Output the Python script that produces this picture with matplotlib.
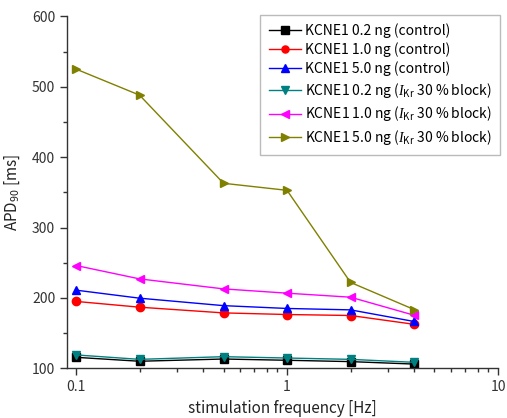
import matplotlib
matplotlib.use("Agg")
import matplotlib.pyplot as plt
from matplotlib.ticker import MultipleLocator, LogLocator, FixedLocator, FixedFormatter, NullFormatter

plt.rcParams['font.family'] = ['Noto Sans CJK JP', 'DejaVu Sans']
plt.rcParams['mathtext.fontset'] = 'custom'
plt.rcParams['mathtext.rm'] = 'Noto Sans CJK JP'
plt.rcParams['mathtext.it'] = 'Liberation Serif:italic'

freq = [0.1, 0.2, 0.5, 1, 2, 4]
ctrl_02 = [115.6, 110.0, 113.2, 111.4, 109.5, 106.0]
ctrl_10 = [195.0, 186.8, 178.7, 176.4, 175.0, 162.5]
ctrl_50 = [211.0, 199.6, 189.0, 185.0, 183.0, 166.5]
blk_02 = [119.0, 112.7, 116.5, 114.6, 112.7, 108.5]
blk_10 = [246.0, 227.0, 212.8, 206.7, 201.0, 175.4]
blk_50 = [525.0, 488.0, 362.8, 352.8, 222.0, 183.5]

labels = [
    "KCNE1 0.2 ng (control)",
    "KCNE1 1.0 ng (control)",
    "KCNE1 5.0 ng (control)",
    r"KCNE1 0.2 ng ($I_{\rm Kr}$ 30 % block)",
    r"KCNE1 1.0 ng ($I_{\rm Kr}$ 30 % block)",
    r"KCNE1 5.0 ng ($I_{\rm Kr}$ 30 % block)",
]
series = [ctrl_02, ctrl_10, ctrl_50, blk_02, blk_10, blk_50]
colors = ['#000000', '#ff0000', '#0000ff', '#008080', '#ff00ff', '#808000']
markers = ['s', 'o', '^', 'v', '<', '>']

fig = plt.figure(figsize=(5.07, 4.18), dpi=100)
ax = fig.add_axes([67/507, 1-368.3/418, (498-67)/507, (368.3-16.3)/418])

for y, lab, c, m in zip(series, labels, colors, markers):
    ax.plot(freq, y, color=c, marker=m, markersize=6, linewidth=1.0, label=lab)

ax.set_xscale('log')
ax.set_xlim(0.0906, 10)
ax.set_ylim(100, 600)
ax.yaxis.set_major_locator(MultipleLocator(100))
ax.yaxis.set_minor_locator(MultipleLocator(50))
ax.xaxis.set_major_locator(FixedLocator([0.1, 1, 10]))
ax.xaxis.set_major_formatter(FixedFormatter(['0.1', '1', '10']))
ax.xaxis.set_minor_locator(LogLocator(base=10, subs=range(2, 10)))
ax.xaxis.set_minor_formatter(NullFormatter())

for s in ['top', 'right']:
    ax.spines[s].set_visible(False)
for s in ['left', 'bottom']:
    ax.spines[s].set_color('#333333')
    ax.spines[s].set_linewidth(1.0)

ax.tick_params(which='major', direction='out', length=5, width=1, labelsize=10, colors='#333333')
ax.tick_params(which='minor', direction='out', length=3, width=1, colors='#333333')

ax.set_xlabel('stimulation frequency [Hz]', fontsize=11, color='#222222')
ax.set_ylabel(r'APD$_{90}$ [ms]', fontsize=11, color='#222222', labelpad=8)
ax.yaxis.set_label_coords(-0.105, 0.5)

leg = ax.legend(loc='upper right', bbox_to_anchor=(1.005, 1.005), borderaxespad=0,
                fontsize=10, frameon=True,
                fancybox=False, edgecolor='#aaaaaa', borderpad=0.6, handlelength=2.3,
                handletextpad=0.3, labelspacing=0.33, markerscale=0.85)
leg.get_frame().set_linewidth(1.0)

fig.savefig('out.png', dpi=100)
